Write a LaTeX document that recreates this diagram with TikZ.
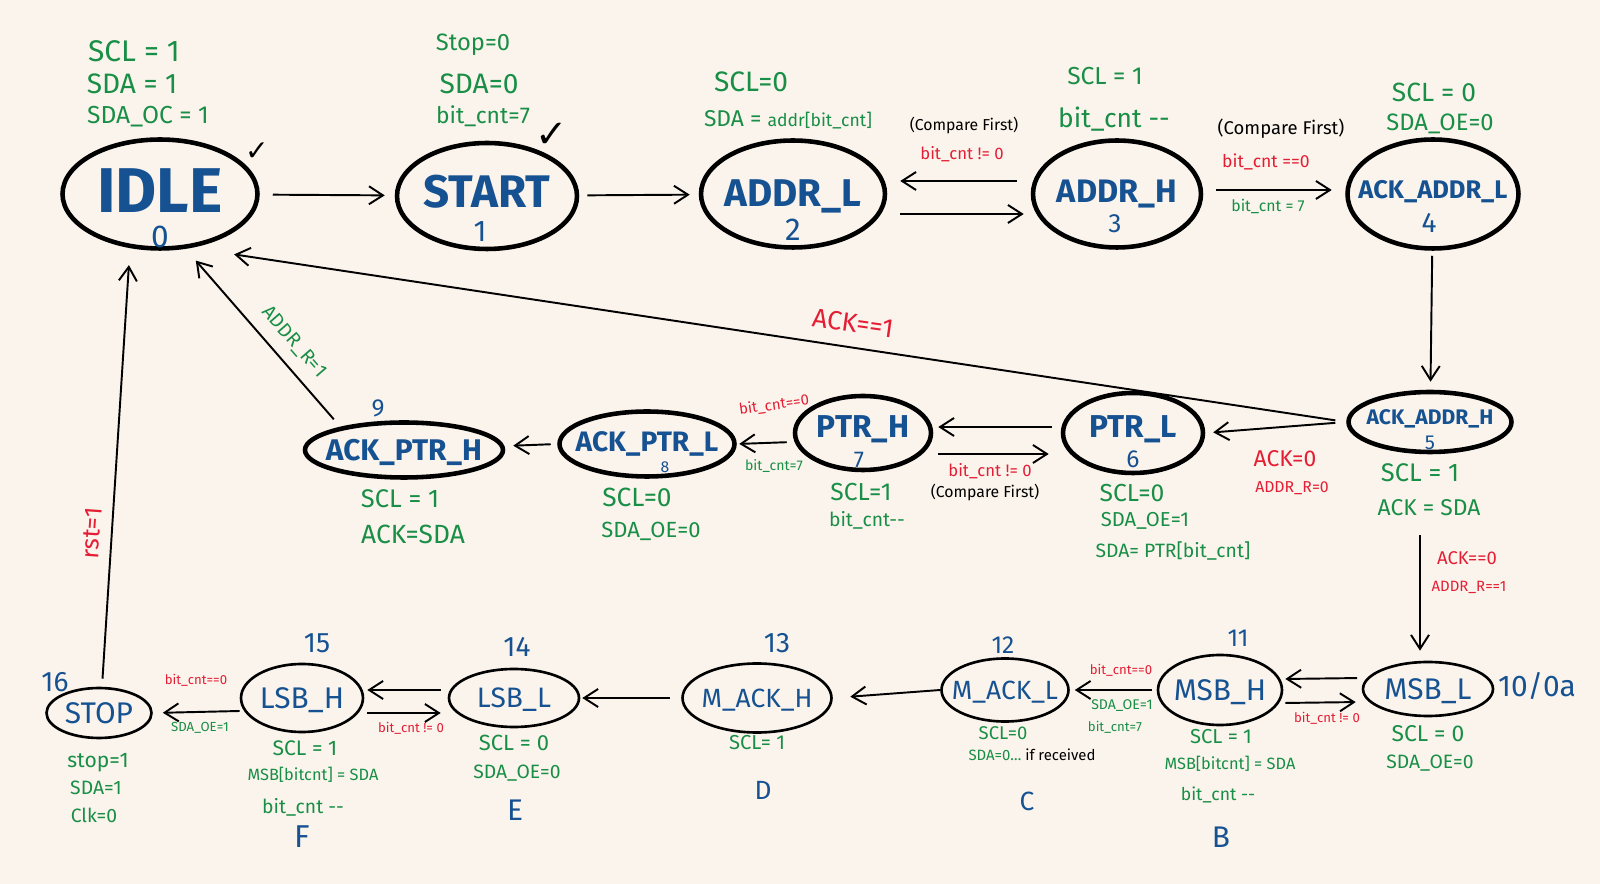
\documentclass[tikz,border=0pt]{standalone}
\usepackage{fontspec}
\setmainfont{Fira Sans}
\newfontfamily\tickfont{DejaVu Sans}
\usetikzlibrary{shapes.geometric,arrows.meta}

\definecolor{paper}{RGB}{251,244,236}
\definecolor{stblue}{RGB}{22,82,146}
\definecolor{setgreen}{RGB}{24,142,70}
\definecolor{condred}{RGB}{228,30,52}
\newcommand{\fsz}[1]{\fontsize{#1}{#1}\selectfont}

\tikzset{
  stnode/.style={draw,ellipse,line width=2.6pt,text=stblue,inner sep=-0.5cm,text depth=0pt},
  stslim/.style={draw,ellipse,line width=1.5pt,text=stblue,inner sep=-0.5cm,text depth=0pt},
  numtag/.style={text=stblue},
  act/.style={text=setgreen},
  cond/.style={text=condred},
  note/.style={text=black},
  flow/.style={-{Straight Barb[length=2.8mm,width=3.6mm]},line width=1.1pt}
}

\begin{document}
\begin{tikzpicture}[x=0.02cm,y=-0.02cm]
\path[fill=paper,use as bounding box] (0,0) rectangle (1600,884);

% states
\node[stnode,minimum width=3.9cm,minimum height=2.18cm,font=\fsz{36}\bfseries,text depth=0.14cm] (idle) at (160,194) {IDLE};
\node[stnode,minimum width=3.6cm,minimum height=2.12cm,font=\fsz{26}\bfseries,text depth=0.18cm] (start) at (487,196) {START};
\node[stnode,minimum width=3.68cm,minimum height=2.14cm,font=\fsz{22}\bfseries,text depth=0.04cm] (addrl) at (793,194) {ADDR\_L};
\node[stnode,minimum width=3.36cm,minimum height=2.14cm,font=\fsz{18.5}\bfseries,text depth=0.1cm] (addrh) at (1117,194) {ADDR\_H};
\node[stnode,minimum width=3.42cm,minimum height=2.18cm,font=\fsz{14.5}\bfseries,text depth=0.18cm] (ackaddrl) at (1433,194) {ACK\_ADDR\_L};
\node[stnode,minimum width=3.26cm,minimum height=1.2cm,font=\fsz{12}\bfseries,text depth=0.2cm] (ackaddrh) at (1430,422) {ACK\_ADDR\_H};
\node[stnode,minimum width=2.8cm,minimum height=1.6cm,font=\fsz{18}\bfseries,text depth=0.26cm] (ptrl) at (1133,433) {PTR\_L};
\node[stnode,minimum width=2.72cm,minimum height=1.48cm,font=\fsz{18}\bfseries,text depth=0.26cm] (ptrh) at (863,433) {PTR\_H};
\node[stnode,minimum width=3.5cm,minimum height=1.3cm,font=\fsz{16}\bfseries,text depth=0.1cm] (ackptrl) at (647,444) {ACK\_PTR\_L};
\node[stnode,minimum width=3.96cm,minimum height=1.1cm,font=\fsz{17}\bfseries] (ackptrh) at (404,450) {ACK\_PTR\_H};
\node[stslim,minimum width=2.6cm,minimum height=1.08cm,font=\fsz{17}] (msbl) at (1428,689) {MSB\_L};
\node[stslim,minimum width=2.48cm,minimum height=1.4cm,font=\fsz{17}] (msbh) at (1220,690) {MSB\_H};
\node[stslim,minimum width=2.54cm,minimum height=1.26cm,font=\fsz{15}] (mackl) at (1005,690) {M\_ACK\_L};
\node[stslim,minimum width=2.98cm,minimum height=1.38cm,font=\fsz{15}] (mackh) at (757,698) {M\_ACK\_H};
\node[stslim,minimum width=2.6cm,minimum height=1.16cm,font=\fsz{16}] (lsbl) at (514,698) {LSB\_L};
\node[stslim,minimum width=2.44cm,minimum height=1.36cm,font=\fsz{17}] (lsbh) at (302,698) {LSB\_H};
\node[stslim,minimum width=2.1cm,minimum height=1cm,font=\fsz{17}] (stop) at (99,713) {STOP};

% state numbers and letters
\node[numtag,font=\fsz{18}] (idlenum) at (160,237) {0};
\node[numtag,font=\fsz{17}] (startnum) at (480,232) {1};
\node[numtag,font=\fsz{18}] (addrlnum) at (793,230) {2};
\node[numtag,font=\fsz{15}] (addrhnum) at (1115,224) {3};
\node[numtag,font=\fsz{16}] (ackaddrlnum) at (1429,223) {4};
\node[numtag,font=\fsz{11.5}] (ackaddrhnum) at (1430,443) {5};
\node[numtag,font=\fsz{14}] (ptrlnum) at (1133,459) {6};
\node[numtag,font=\fsz{13}] (ptrhnum) at (859,460) {7};
\node[numtag,font=\fsz{9}] (ackptrlnum) at (665,467) {8};
\node[numtag,font=\fsz{14}] (ackptrhnum) at (378,408) {9};
\node[numtag,font=\fsz{16}] (stopnum) at (55,682) {16};
\node[numtag,font=\fsz{16}] (lsbhnum) at (317,643) {15};
\node[numtag,font=\fsz{16}] (lsblnum) at (517,647) {14};
\node[numtag,font=\fsz{16}] (mackhnum) at (777,643) {13};
\node[numtag,font=\fsz{14}] (macklnum) at (1003,645) {12};
\node[numtag,font=\fsz{14}] (msbhnum) at (1238,638) {11};
\node[numtag,font=\fsz{17}] (msblnum) at (1537,686) {10/0a};
\node[numtag,font=\fsz{18}] (lsbhtag) at (302,837) {F};
\node[numtag,font=\fsz{17}] (lsbltag) at (515,810) {E};
\node[numtag,font=\fsz{15}] (mackhtag) at (763,790) {D};
\node[numtag,font=\fsz{15}] (mackltag) at (1027,801) {C};
\node[numtag,font=\fsz{17}] (msbhtag) at (1221,837) {B};
\node[font=\tickfont\fsz{16}] (idletick) at (257,152) {✓};
\node[font=\tickfont\fsz{22}] (starttick) at (552,135) {✓};

% outputs of each state
\node[act,font=\fsz{17}] (idlescl) at (134,51) {SCL = 1};
\node[act,font=\fsz{16}] (idlesda) at (132,84) {SDA = 1};
\node[act,font=\fsz{14}] (idleoe) at (148,117) {SDA\_OC = 1};
\node[act,font=\fsz{13.5}] (startstop) at (473,45) {Stop=0};
\node[act,font=\fsz{16}] (startsda) at (479,84) {SDA=0};
\node[act,font=\fsz{13}] (startcnt) at (483,116) {bit\_cnt=7};
\node[act,font=\fsz{16}] (addrlscl) at (751,82) {SCL=0};
\node[act,font=\fsz{10}] (addrlsda) at (788,120) {{\fsz{13}SDA = }addr[bit\_cnt]};
\node[act,font=\fsz{14}] (addrhscl) at (1105,76) {SCL = 1};
\node[act,font=\fsz{15}] (addrhcnt) at (1114,119) {bit\_cnt -{}-};
\node[act,font=\fsz{15}] (ackaddrlscl) at (1434,92) {SCL = 0};
\node[act,font=\fsz{13.5}] (ackaddrloe) at (1440,124) {SDA\_OE=0};
\node[act,font=\fsz{14.5}] (ackaddrhscl) at (1420,473) {SCL = 1};
\node[act,font=\fsz{13}] (ackaddrhack) at (1429,508) {ACK = SDA};
\node[act,font=\fsz{14}] (ptrlscl) at (1132,493) {SCL=0};
\node[act,font=\fsz{11.5}] (ptrloe) at (1145,521) {SDA\_OE=1};
\node[act,font=\fsz{11}] (ptrlsda) at (1173,551) {SDA= PTR[bit\_cnt]};
\node[act,font=\fsz{14}] (ptrhscl) at (861,492) {SCL=1};
\node[act,font=\fsz{11}] (ptrhcnt) at (867,520) {bit\_cnt-{}-};
\node[act,font=\fsz{15}] (ackptrlscl) at (637,497) {SCL=0};
\node[act,font=\fsz{12.5}] (ackptrloe) at (651,531) {SDA\_OE=0};
\node[act,font=\fsz{14.5}] (ackptrhscl) at (400,499) {SCL = 1};
\node[act,font=\fsz{15}] (ackptrhack) at (413,534) {ACK=SDA};
\node[act,font=\fsz{13}] (msblscl) at (1428,734) {SCL = 0};
\node[act,font=\fsz{11}] (msbloe) at (1430,763) {SDA\_OE=0};
\node[act,font=\fsz{11.5}] (msbhscl) at (1221,737) {SCL = 1};
\node[act,font=\fsz{9.3}] (msbhmsb) at (1230,764) {MSB[bitcnt] = SDA};
\node[act,font=\fsz{10}] (msbhcnt) at (1218,795) {bit\_cnt -{}-};
\node[act,font=\fsz{10.5}] (macklscl) at (1003,733) {SCL=0};
\node[act,font=\fsz{8.5}] (macklsda) at (1032,755) {SDA=0\dots\ \textcolor{black}{if received}};
\node[act,font=\fsz{11.5}] (mackhscl) at (757,743) {SCL= 1};
\node[act,font=\fsz{12.5}] (lsblscl) at (514,743) {SCL = 0};
\node[act,font=\fsz{11}] (lsbloe) at (517,773) {SDA\_OE=0};
\node[act,font=\fsz{12}] (lsbhscl) at (305,748) {SCL = 1};
\node[act,font=\fsz{9.3}] (lsbhmsb) at (313,775) {MSB[bitcnt] = SDA};
\node[act,font=\fsz{11}] (lsbhcnt) at (303,807) {bit\_cnt -{}-};
\node[act,font=\fsz{12}] (stopstop) at (98,763) {stop=1};
\node[act,font=\fsz{11}] (stopsda) at (96,788) {SDA=1};
\node[act,font=\fsz{11}] (stopclk) at (94,815) {Clk=0};

% transition conditions
\node[note,font=\fsz{9}] (cmpaddr) at (964,126) {(Compare First)};
\node[cond,font=\fsz{9.5}] (addrloop) at (962,154) {bit\_cnt != 0};
\node[note,font=\fsz{10.5}] (cmpack) at (1281,129) {(Compare First)};
\node[cond,font=\fsz{10}] (addrdone) at (1266,162) {bit\_cnt ==0};
\node[act,font=\fsz{9}] (addrreset) at (1268,206) {bit\_cnt = 7};
\node[cond,font=\fsz{15},rotate=-8] (nack) at (853,323) {ACK==1};
\node[act,font=\fsz{11},rotate=-49] (readback) at (294,342) {ADDR\_R=1};
\node[cond,font=\fsz{14},rotate=86] (rst) at (92,533) {rst=1};
\node[cond,font=\fsz{13}] (ackok) at (1285,459) {ACK=0};
\node[cond,font=\fsz{9}] (wrmode) at (1292,488) {ADDR\_R=0};
\node[cond,font=\fsz{10.5}] (ackrd) at (1467,558) {ACK==0};
\node[cond,font=\fsz{8.5}] (rdmode) at (1469,587) {ADDR\_R==1};
\node[cond,font=\fsz{8.5},rotate=8] (ptrdone) at (774,405) {bit\_cnt==0};
\node[act,font=\fsz{8}] (ptrreset) at (774,466) {bit\_cnt=7};
\node[cond,font=\fsz{9.5}] (ptrloop) at (990,471) {bit\_cnt != 0};
\node[note,font=\fsz{9}] (cmpptr) at (985,493) {(Compare First)};
\node[cond,font=\fsz{7.5}] (msbloop) at (1327,718) {bit\_cnt != 0};
\node[cond,font=\fsz{7.5}] (msbdone) at (1121,670) {bit\_cnt==0};
\node[act,font=\fsz{8}] (msboe) at (1122,706) {SDA\_OE=1};
\node[act,font=\fsz{7.5}] (msbreset) at (1115,727) {bit\_cnt=7};
\node[cond,font=\fsz{7.5}] (lsbloop) at (411,728) {bit\_cnt != 0};
\node[cond,font=\fsz{7.5}] (lsbdone) at (196,680) {bit\_cnt==0};
\node[act,font=\fsz{7.5}] (lsboe) at (200,728) {SDA\_OE=1};

% transitions
\draw[flow,shorten <=0.26cm,shorten >=0.2cm] (idle) -- (start);
\draw[flow,shorten <=0.16cm,shorten >=0.18cm] (start) -- (addrl);
\draw[flow,shorten <=0.28cm,shorten >=0.26cm] ([yshift=0.26cm]addrh.west) -- ([yshift=0.26cm]addrl.east);
\draw[flow,shorten <=0.26cm,shorten >=0.14cm] ([yshift=-0.4cm]addrl.east) -- ([yshift=-0.4cm]addrh.west);
\draw[flow,shorten <=0.26cm,shorten >=0.27cm] ([yshift=0.08cm]addrh.east) -- ([yshift=0.08cm]ackaddrl.west);
\draw[flow,shorten <=0.1cm,shorten >=0.16cm] (ackaddrl) -- (ackaddrh);
\draw[flow,shorten <=0.22cm,shorten >=0.16cm] (ackaddrh.west) -- (ptrl.east);
\draw[flow,shorten <=0.22cm,shorten >=0.87cm] (ackaddrh.west) -- (idle.-60);
\draw[flow,shorten <=0.18cm,shorten >=0.1cm] ([yshift=0.12cm]ptrl.west) -- ([yshift=0.12cm]ptrh.east);
\draw[flow,shorten <=0.1cm,shorten >=0.24cm] ([yshift=-0.42cm]ptrh.east) -- ([yshift=-0.42cm]ptrl.west);
\draw[flow,shorten <=0.12cm,shorten >=0.05cm] ([yshift=-0.18cm]ptrh.west) -- (ackptrl.east);
\draw[flow,shorten <=0.13cm,shorten >=0.16cm] (ackptrl.west) -- ([yshift=0.08cm]ackptrh.east);
\draw[flow,shorten <=0.2cm,shorten >=0.31cm] (ackptrh.160) -- (idle.-65);
\draw[flow,shorten <=1.62cm,shorten >=0.2cm] ([xshift=-0.2cm]ackaddrh.south) -- ([xshift=-0.2cm]ackaddrh.south |- msbl.north);
\draw[flow,shorten <=0.09cm,shorten >=0.04cm] ([yshift=0.22cm]msbl.west) -- ([yshift=0.22cm]msbh.east);
\draw[flow,shorten <=0.04cm,shorten >=0.12cm] ([yshift=-0.26cm]msbh.east) -- ([yshift=-0.26cm]msbl.west);
\draw[flow,shorten <=0.1cm,shorten >=0.1cm] (msbh.west) -- (mackl.east);
\draw[flow,shorten >=0.35cm] (mackl.west) -- (mackh.east);
\draw[flow,shorten <=0.23cm,shorten >=0.04cm] (mackh.west) -- (lsbl.east);
\draw[flow,shorten <=0.14cm,shorten >=0.06cm] ([yshift=0.16cm]lsbl.west) -- ([yshift=0.16cm]lsbh.east);
\draw[flow,shorten <=0.06cm,shorten >=0.14cm] ([yshift=-0.3cm]lsbh.east) -- ([yshift=-0.3cm]lsbl.west);
\draw[flow,shorten >=0.2cm] ([yshift=-0.26cm]lsbh.west) -- (stop.east);
\draw[flow,shorten <=0.16cm,shorten >=0.34cm] ([xshift=0.06cm]stop.north) -- (idle.-119);
\end{tikzpicture}
\end{document}
